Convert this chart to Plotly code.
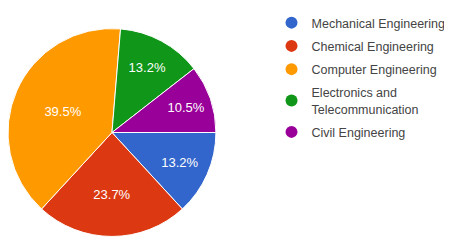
import plotly.graph_objects as go

categories = ["Mechanical Engineering", "Chemical Engineering", "Computer Engineering",
              "Electronics and Telecommunication", "Civil Engineering"]
legend_labels = ["Mechanical Engineering", "Chemical Engineering", "Computer Engineering",
                 "Electronics and<br>Telecommunication", "Civil Engineering"]
responses = [5, 9, 15, 5, 4]
colors = ["#3366cc", "#dc3912", "#ff9900", "#109618", "#990099"]

fig = go.Figure()
fig.add_trace(go.Pie(
    labels=categories, values=responses, sort=False, direction="clockwise", rotation=90,
    marker=dict(colors=colors, line=dict(color="white", width=1)),
    texttemplate="%{percent:.1%}", textposition="inside", insidetextorientation="horizontal",
    textfont=dict(color="white", size=13, family="Arial, sans-serif"),
    showlegend=False, domain=dict(x=[0, 0.46], y=[0, 1]), hoverinfo="label+percent",
))
for i, (lab, col) in enumerate(zip(legend_labels, colors)):
    fig.add_trace(go.Scatter(x=[None], y=[None], mode="markers", name=lab,
                             legendgroup=f"g{i}",
                             marker=dict(color=col, size=12, symbol="circle")))

fig.update_layout(
    width=452, height=249, margin=dict(l=0, r=0, t=0, b=0),
    paper_bgcolor="white", plot_bgcolor="white",
    xaxis=dict(visible=False), yaxis=dict(visible=False),
    legend=dict(x=0.583, y=1.0, xanchor="left", yanchor="top",
                font=dict(size=12.5, color="#444", family="Arial, sans-serif"),
                itemwidth=30, tracegroupgap=4, traceorder="grouped"),
)
fig.write_html("out.html")
